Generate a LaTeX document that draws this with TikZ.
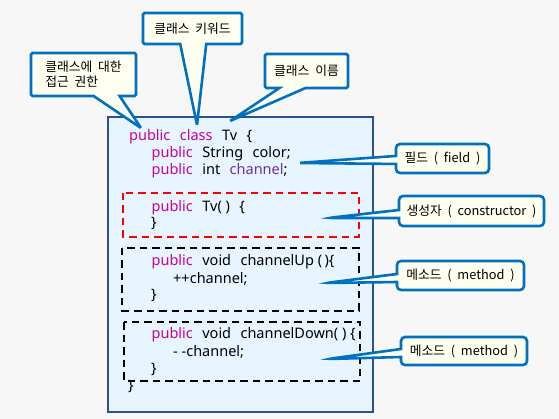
\documentclass[tikz,border=0pt]{standalone}
\usepackage{fontspec}
\setmainfont[WordSpace=2]{Noto Sans CJK KR}
\newfontfamily\codefont{Noto Sans}
\usetikzlibrary{shapes.callouts}
\definecolor{pagebg}{HTML}{F7F7F7}
\definecolor{classfill}{HTML}{E6F5FF}
\definecolor{classline}{HTML}{2E5090}
\definecolor{notefill}{HTML}{FFFFF0}
\definecolor{noteline}{HTML}{0070C0}
\definecolor{keyword}{HTML}{CC0099}
\definecolor{varname}{HTML}{7030A0}
\newcommand{\gap}{\hspace{0.65em}}
\newcommand{\kw}[1]{\textcolor{keyword}{#1}}

\begin{document}
\begin{tikzpicture}[
  x=1pt,
  y=-1pt,
  code/.style={anchor=base west, inner sep=0pt,
               font=\codefont\fontsize{14.5}{17}\selectfont},
  note/.style={rectangle callout, draw=noteline, fill=notefill,
               line width=2.6pt, inner sep=0pt, rounded corners=1.5pt,
               callout pointer width=26pt,
               font=\fontsize{12.8}{15}\selectfont},
  sidenote/.style={note, callout pointer width=8pt, rounded corners=4pt},
  classbox/.style={draw=classline, fill=classfill, line width=2.8pt},
  block/.style={draw=#1, line width=2.6pt, dash pattern=on 7.5pt off 5pt}
]
  %% ---- 背景 ----------------------------------------------------------------
  \fill[pagebg] (0,0) rectangle (559,419);
  \useasboundingbox (0,0) rectangle (559,419);

  %% ---- 클래스 본체 -----------------------------------------------------------
  \draw[classbox] (108,117) rectangle (373,412);

  \draw[block=red]   (123,193) rectangle (359,237);
  \draw[block=black] (122,248) rectangle (359,311);
  \draw[block=black] (124,322) rectangle (360,381);

  %% ---- 코드 ------------------------------------------------------------------
  \node[code] (head)   at (129,140.5)   {\kw{public}\gap\kw{class}\gap Tv\gap\{};
  \node[code] (color)  at (151.5,157.3) {\kw{public}\gap String\gap color;};
  \node[code] (chan)   at (151.5,174.3) {\kw{public}\gap int\gap\textcolor{varname}{channel};};
  \node[code] (ctor)   at (151.5,211.7) {\kw{public}\gap Tv(\ )\gap\{};
  \node[code] (ctorend) at (151,228)    {\}};
  \node[code] (up)     at (151.5,265.7) {\kw{public}\gap void\gap channelUp\ (\,)\{};
  \node[code] (upbody) at (173,283.3)   {++channel;};
  \node[code] (upend)  at (151,300)     {\}};
  \node[code] (down)   at (151.5,338)   {\kw{public}\gap void\gap channelDown(\ )\ \{};
  \node[code] (downbody) at (173,356)   {-\ -channel;};
  \node[code] (downend) at (151,373)    {\}};
  \node[code] (tail)   at (128,390)     {\}};

  %% ---- 말풍선 끝점 -----------------------------------------------------------
  \coordinate (tipaccess) at (141,128);
  \coordinate (tipkey)    at (197,125);
  \coordinate (tipname)   at (230,121);
  \coordinate (tipfield)  at (298,163);
  \coordinate (tipctor)   at (328,218);
  \coordinate (tipup)     at (326,283);
  \coordinate (tipdown)   at (328,359);

  %% ---- 말풍선 ----------------------------------------------------------------
  \node[note, minimum width=105pt, minimum height=43pt, align=left,
        callout absolute pointer=(tipaccess)] (access) at (83.5,74.5)
    {클래스에 대한\\접근 권한};
  \node[note, minimum width=99pt, minimum height=31pt,
        callout absolute pointer=(tipkey)] (keyword) at (192.5,28.5)
    {클래스 키워드};
  \node[note, minimum width=83pt, minimum height=34pt,
        callout absolute pointer=(tipname)] (name) at (306.5,71)
    {클래스 이름};

  \node[sidenote, minimum width=93pt, minimum height=29pt,
        callout absolute pointer=(tipfield)] (field) at (442.5,158.5)
    {필드 ( field )};
  \node[sidenote, minimum width=145pt, minimum height=30pt,
        callout absolute pointer=(tipctor)] (constructor) at (471.5,211)
    {생성자 ( constructor )};
  \node[sidenote, minimum width=127pt, minimum height=29pt,
        callout absolute pointer=(tipup)] (methodup) at (460.5,275.5)
    {메소드 ( method )};
  \node[sidenote, minimum width=126pt, minimum height=28pt,
        callout absolute pointer=(tipdown)] (methoddown) at (464,351)
    {메소드 ( method )};
\end{tikzpicture}
\end{document}
